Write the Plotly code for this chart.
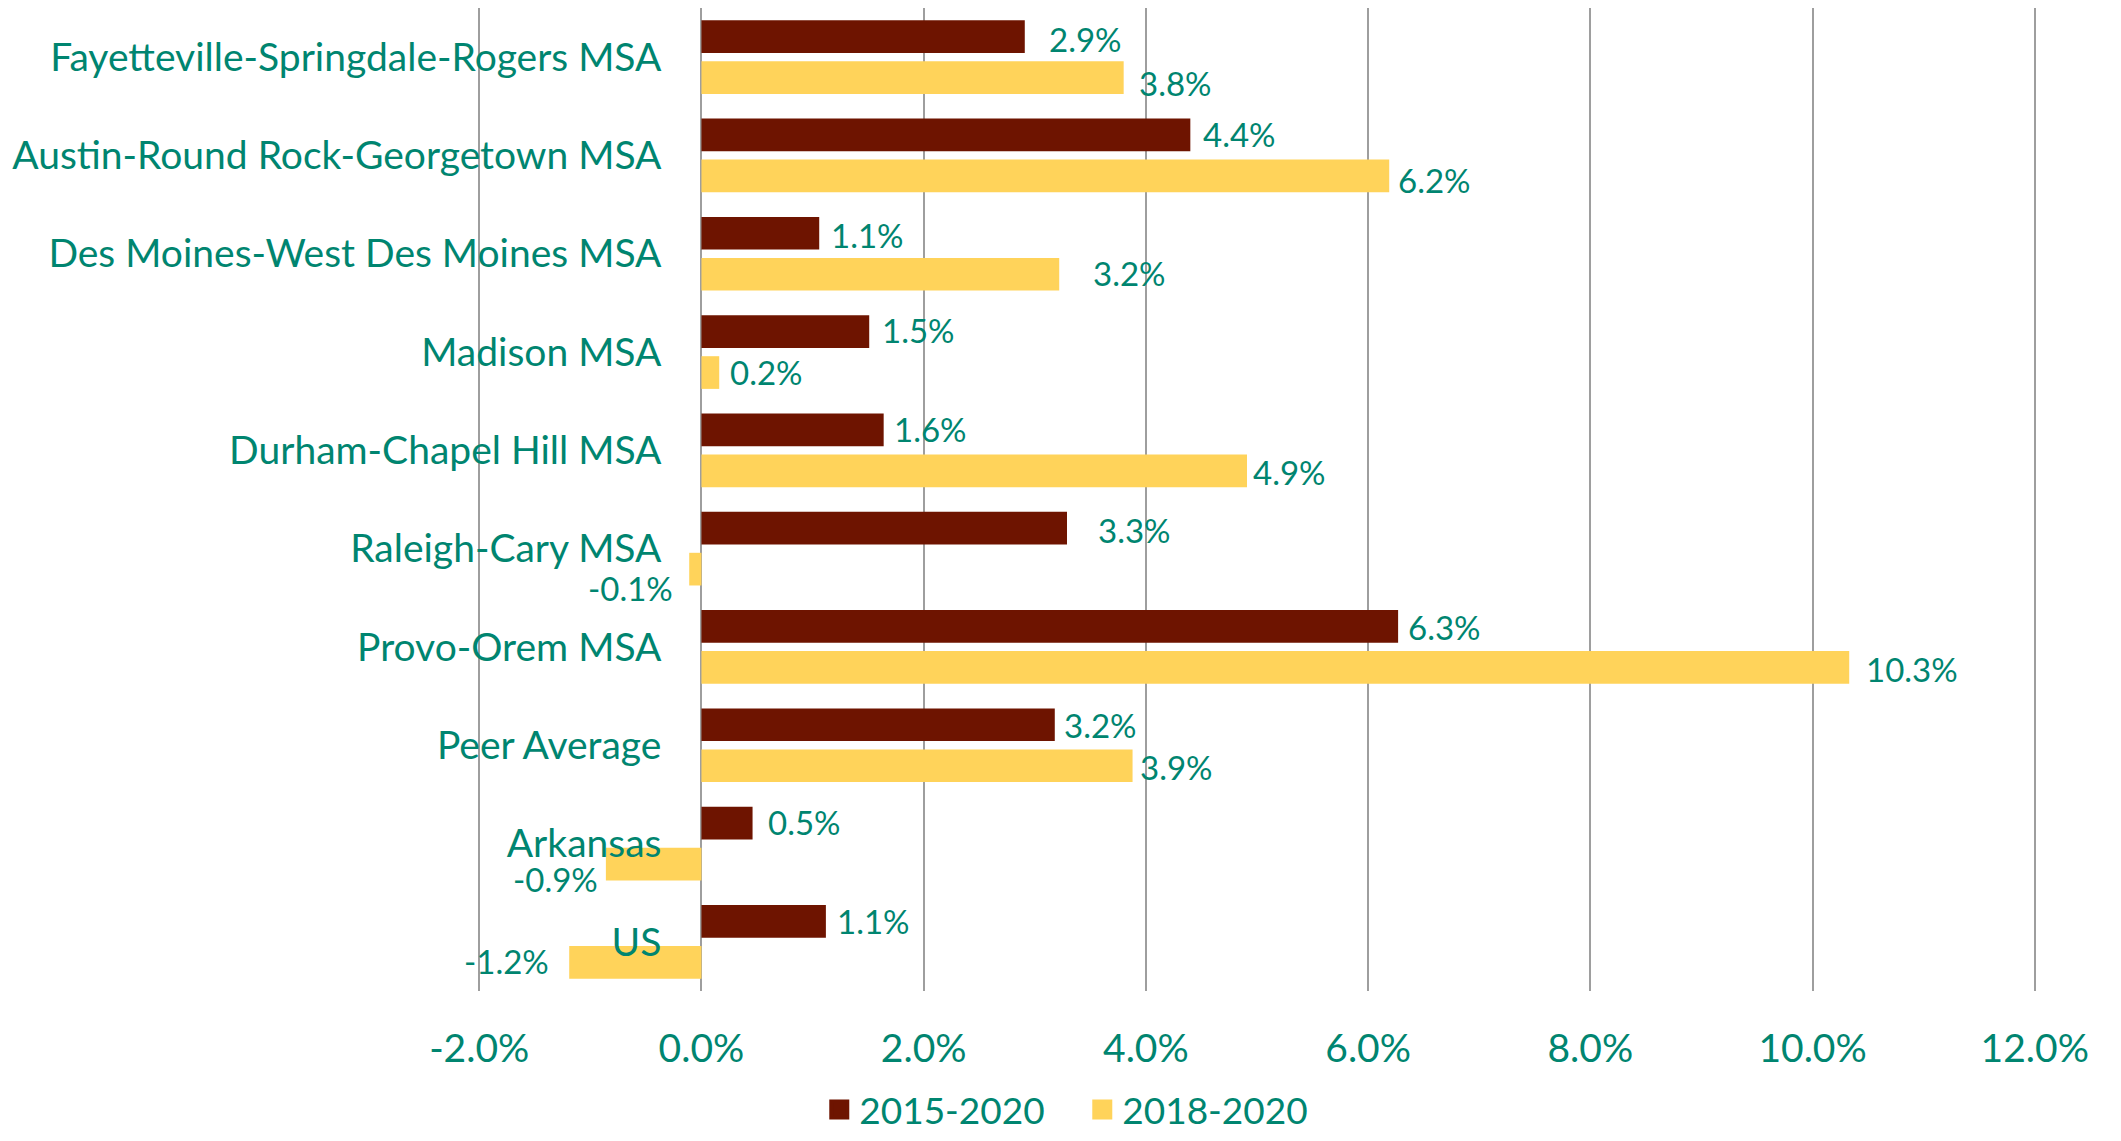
import plotly.graph_objects as go

# ---- data ----
categories = [
    "Fayetteville-Springdale-Rogers MSA",
    "Austin-Round Rock-Georgetown MSA",
    "Des Moines-West Des Moines MSA",
    "Madison MSA",
    "Durham-Chapel Hill MSA",
    "Raleigh-Cary MSA",
    "Provo-Orem MSA",
    "Peer Average",
    "Arkansas",
    "US",
]
growth_2015_2020 = [2.91, 4.40, 1.06, 1.51, 1.64, 3.29, 6.27, 3.18, 0.46, 1.12]
growth_2018_2020 = [3.80, 6.19, 3.22, 0.16, 4.91, -0.11, 10.33, 3.88, -0.86, -1.19]
series_names = ["2015-2020", "2018-2020"]
x_ticks = [-2, 0, 2, 4, 6, 8, 10, 12]
x_tick_labels = ["-2.0%", "0.0%", "2.0%", "4.0%", "6.0%", "8.0%", "10.0%", "12.0%"]

# ---- style ----
W, H = 2105, 1125          # page has an 8px body margin
FONT = "Lato"
TEAL = "#008570"
MAROON = "#6E1400"
YELLOW = "#FFD35A"
GRID = "#9E9E9E"
colors = [MAROON, YELLOW]
x_range = [-2.02, 12.02]

# manual data-label nudges (px): gap from bar end, downward shift
label_gap = [
    [22, 11, 10, 11, 8, 29, 8, 7, 13, 9],
    [13, 7, 32, 9, 4, 14, 15, 5, 6, 18],
]
label_dy = [
    [4, 1.5, 3.5, 0, 1.5, 3.5, 3, 2, 1, 2],
    [7, 6.5, 1, 1, 3.5, 21, 4, 3, 17, 1],
]
bar_offset_px = [20.5, -20.5]

fig = go.Figure()
series_vals = [growth_2015_2020, growth_2018_2020]
for s, (name, vals) in enumerate(zip(series_names, series_vals)):
    fig.add_trace(go.Bar(
        y=categories, x=vals, orientation="h", name=name,
        marker=dict(color=colors[s], line=dict(width=0)),
        showlegend=False,
    ))
# legend entries (larger square swatches)
for s, name in enumerate(series_names):
    fig.add_trace(go.Scatter(
        x=[None], y=[None], mode="markers", name=name,
        marker=dict(symbol="square", size=20, color=colors[s],
                    line=dict(color=colors[s], width=4)),
        showlegend=True,
    ))

annotations = []
for s, vals in enumerate(series_vals):
    for i, v in enumerate(vals):
        gap = label_gap[s][i]
        annotations.append(dict(
            x=v, y=categories[i], xref="x", yref="y",
            text=f"{v:.1f}%", showarrow=False,
            xanchor="left" if v >= 0 else "right",
            yanchor="middle",
            xshift=gap if v >= 0 else -gap,
            yshift=bar_offset_px[s] - label_dy[s][i] + 2,
            font=dict(family=FONT, size=33, color=TEAL),
        ))

fig.update_layout(
    width=W, height=H,
    margin=dict(l=469, r=76, t=0, b=142, autoexpand=False),
    paper_bgcolor="white", plot_bgcolor="white",
    barmode="group", bargap=0.166, bargroupgap=0.2025,
    font=dict(family=FONT, color=TEAL),
    annotations=annotations,
    legend=dict(orientation="h", x=0.388, xanchor="center", y=-0.121, yanchor="middle",
                font=dict(family=FONT, size=37, color=TEAL), itemwidth=30,
                entrywidth=218),
    xaxis=dict(
        range=x_range, tickvals=x_ticks, ticktext=x_tick_labels,
        showgrid=True, gridcolor=GRID, gridwidth=2,
        zeroline=True, zerolinecolor=GRID, zerolinewidth=2,
        showline=False, ticks="", ticklabelstandoff=31,
        tickfont=dict(family=FONT, size=39, color=TEAL),
    ),
    yaxis=dict(
        type="category", categoryorder="array", categoryarray=categories,
        autorange="reversed", anchor="free",
        position=(0 - x_range[0]) / (x_range[1] - x_range[0]),
        showgrid=False, zeroline=False, showline=False, ticks="",
        ticklabelstandoff=40,
        tickfont=dict(family=FONT, size=39, color=TEAL),
    ),
)

fig.write_html("out.html")
